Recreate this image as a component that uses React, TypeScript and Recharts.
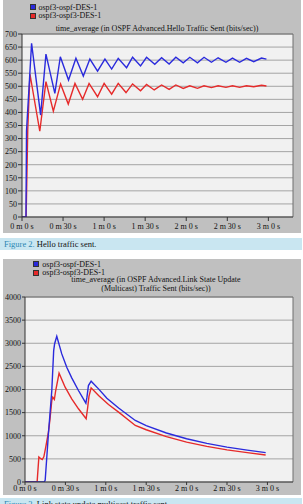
import React from "react";
import { LineChart, Line, XAxis, YAxis, CartesianGrid, ReferenceLine } from "recharts";

// ---------- data ----------
const seriesNames = ["ospf3-ospf-DES-1", "ospf3-ospf3-DES-1"];
const timeTicks = [0, 30, 60, 90, 120, 150, 180];
const timeTickLabels = ["0 m 0 s", "0 m 30 s", "1 m 0 s", "1 m 30 s", "2 m 0 s", "2 m 30 s", "3 m 0 s"];

const helloYTicks = [0, 50, 100, 150, 200, 250, 300, 350, 400, 450, 500, 550, 600, 650, 700];
const lsuYTicks = [0, 500, 1000, 1500, 2000, 2500, 3000, 3500, 4000];

// [time (s), bits/sec]
const helloBlue: [number, number][] = [
  [0, 0], [2.9, 0], [3.3, 330], [7, 664], [13.6, 390], [17.5, 623], [24, 473], [28, 613],
  [34, 524], [39.4, 607], [44.8, 539], [49.6, 604], [55.2, 558], [60.6, 604], [65.5, 566],
  [70.3, 607], [76.4, 571], [80.8, 611], [86.6, 578], [91, 611], [97, 584], [102, 609],
  [107.5, 585], [112.4, 611], [117.8, 590], [122.6, 611], [128.2, 590], [133, 611],
  [138.4, 592], [143.3, 609], [149, 592], [153.8, 608], [159, 592], [164, 607],
  [169.3, 594], [175, 608], [178.6, 604],
];
const helloRed: [number, number][] = [
  [0, 0], [3, 0], [4.2, 333], [5.8, 547], [13, 328], [17.5, 518], [22.9, 405], [28.2, 509],
  [33.8, 432], [38.7, 511], [44.3, 450], [49, 511], [55.2, 460], [60, 511], [65.5, 470],
  [70.3, 511], [76, 476], [80.8, 509], [86.6, 483], [91, 507], [96.6, 486], [102, 505],
  [107.5, 488], [112.4, 505], [117.8, 492], [122.6, 502], [128.2, 492], [133, 502],
  [138.4, 495], [143.3, 502], [149, 496], [153.8, 502], [159, 496], [164, 502],
  [169.3, 498], [175, 504], [178.6, 501],
];

const lsuBlue: [number, number][] = [
  [0, 0], [14.4, 0], [15, 40], [17.4, 1043], [19.9, 1978], [21.3, 2842], [22, 2990],
  [23.6, 3151], [27.3, 2770], [31, 2482], [34.7, 2252], [39.7, 1978], [45.2, 1705],
  [46, 1835], [47.1, 2086], [49.1, 2180], [54.6, 2014], [60.8, 1810], [69.5, 1600],
  [81.9, 1331], [90, 1220], [105, 1060], [120, 935], [135, 835], [150, 755], [165, 690],
  [178.7, 634],
];
const lsuRed: [number, number][] = [
  [0, 0], [9, 0], [10.3, 540], [11.5, 510], [12.8, 485], [14, 545], [15.4, 755],
  [17.4, 1079], [18.6, 1367], [19.9, 1763], [20.6, 1835], [21.8, 1784], [22.8, 1978],
  [25.3, 2352], [29.8, 2050], [34.7, 1798], [39.7, 1583], [45.4, 1367], [46.5, 1600],
  [47.5, 1850], [49.1, 2036], [54.6, 1870], [62, 1676], [69.5, 1511], [81.9, 1223],
  [90, 1130], [105, 980], [120, 862], [135, 770], [150, 695], [165, 635], [178.7, 584],
];

const toRows = (s: [number, number][]) => s.map(([t, v]) => ({ t, v }));

// ---------- styles ----------
const FONT = "'Liberation Serif', 'DejaVu Serif', serif";
const BLUE = "#2a2adc";
const RED = "#e62a2a";
const PANEL = "#c0c0c0";
const PLOT_BG = "#f1f1f1";
const GRID = "#a4a4a4";
const BORDER = "#6e6e6e";

const tickStyle = { fontSize: 8, fill: "#111", fontFamily: FONT };

function Legend({ top, left }: { top: number; left: number }) {
  const colors = [BLUE, RED];
  return (
    <>
      {seriesNames.map((n, i) => (
        <div
          key={n}
          style={{
            position: "absolute",
            top: top + i * 8.6,
            left,
            height: 9,
            display: "flex",
            alignItems: "center",
            fontFamily: FONT,
            fontSize: 8,
            color: "#111",
            whiteSpace: "nowrap",
          }}
        >
          <span
            style={{
              display: "inline-block",
              width: 4,
              height: 4,
              background: colors[i],
              marginRight: 3,
              border: "0.5px solid #333",
            }}
          />
          {n}
        </div>
      ))}
    </>
  );
}

function Caption({ top, fig, text }: { top: number; fig: string; text: string }) {
  return (
    <div
      style={{
        position: "absolute",
        top,
        left: 0,
        width: 302,
        height: 12,
        background: "#c9e6f1",
        fontFamily: FONT,
        fontSize: 8.5,
        lineHeight: "12px",
        paddingLeft: 4,
        boxSizing: "border-box",
        whiteSpace: "nowrap",
        color: "#111",
      }}
    >
      <span style={{ color: "#2b86b3" }}>{fig}</span> {text}
    </div>
  );
}

export default function App() {
  return (
    <div
      style={{
        position: "absolute",
        left: 0,
        top: 0,
        width: 303,
        height: 504,
        overflow: "hidden",
        background: "#fff",
      }}
    >
      {/* Chart 1 */}
      <div style={{ position: "absolute", left: 3, top: 0, width: 298, height: 233, background: PANEL }}>
        <LineChart width={298} height={233} margin={{ top: 34, right: 8, bottom: 0, left: 0 }}>
          <CartesianGrid vertical={false} fill={PLOT_BG} stroke={GRID} />
          <XAxis
            type="number"
            dataKey="t"
            domain={[0, 198]}
            ticks={timeTicks}
            interval={0}
            tickFormatter={(_v: number, i: number) => timeTickLabels[i]}
            height={16}
            tickSize={4}
            tickMargin={2}
            tick={tickStyle}
            stroke="#333"
            allowDataOverflow
          />
          <YAxis
            type="number"
            domain={[0, 700]}
            ticks={helloYTicks}
            interval={0}
            width={19}
            tickSize={4}
            tickMargin={1}
            tick={tickStyle}
            stroke="#333"
            allowDataOverflow
          />
          <ReferenceLine y={700} stroke={BORDER} />
          <ReferenceLine x={198} stroke={BORDER} />
          <Line data={toRows(helloRed)} dataKey="v" stroke={RED} strokeWidth={1.4} dot={false} isAnimationActive={false} type="linear" />
          <Line data={toRows(helloBlue)} dataKey="v" stroke={BLUE} strokeWidth={1.4} dot={false} isAnimationActive={false} type="linear" />
        </LineChart>
        <Legend top={2.5} left={26.5} />
        <div
          style={{
            position: "absolute",
            top: 23.5,
            left: 0,
            width: 308,
            textAlign: "center",
            fontFamily: FONT,
            fontSize: 8,
            lineHeight: "9px",
            color: "#111",
            whiteSpace: "nowrap",
          }}
        >
          time_average (in OSPF Advanced.Hello Traffic Sent (bits/sec))
        </div>
      </div>
      <Caption top={237.5} fig="Figure 2." text="Hello traffic sent." />

      {/* Chart 2 */}
      <div style={{ position: "absolute", left: 3, top: 259, width: 298, height: 236, background: PANEL }}>
        <LineChart width={298} height={236} margin={{ top: 38, right: 8, bottom: 0, left: 0 }}>
          <CartesianGrid vertical={false} fill={PLOT_BG} stroke={GRID} />
          <XAxis
            type="number"
            dataKey="t"
            domain={[0, 199]}
            ticks={timeTicks}
            interval={0}
            tickFormatter={(_v: number, i: number) => timeTickLabels[i]}
            height={13}
            tickSize={3}
            tickMargin={0}
            tick={tickStyle}
            stroke="#333"
            allowDataOverflow
          />
          <YAxis
            type="number"
            domain={[0, 4000]}
            ticks={lsuYTicks}
            interval={0}
            width={22}
            tickSize={3}
            tickMargin={1}
            tick={tickStyle}
            stroke="#333"
            allowDataOverflow
          />
          <ReferenceLine y={4000} stroke={BORDER} />
          <ReferenceLine x={199} stroke={BORDER} />
          <Line data={toRows(lsuRed)} dataKey="v" stroke={RED} strokeWidth={1.4} dot={false} isAnimationActive={false} type="linear" />
          <Line data={toRows(lsuBlue)} dataKey="v" stroke={BLUE} strokeWidth={1.4} dot={false} isAnimationActive={false} type="linear" />
        </LineChart>
        <Legend top={0.5} left={30.3} />
        <div
          style={{
            position: "absolute",
            top: 15.5,
            left: 0,
            width: 306,
            textAlign: "center",
            fontFamily: FONT,
            fontSize: 8,
            lineHeight: "9px",
            color: "#111",
            whiteSpace: "nowrap",
          }}
        >
          time_average (in OSPF Advanced.Link State Update
          <br />
          (Multicast) Traffic Sent (bits/sec))
        </div>
      </div>
      <Caption top={497.7} fig="Figure 3." text="Link state update multicast traffic sent." />
    </div>
  );
}
